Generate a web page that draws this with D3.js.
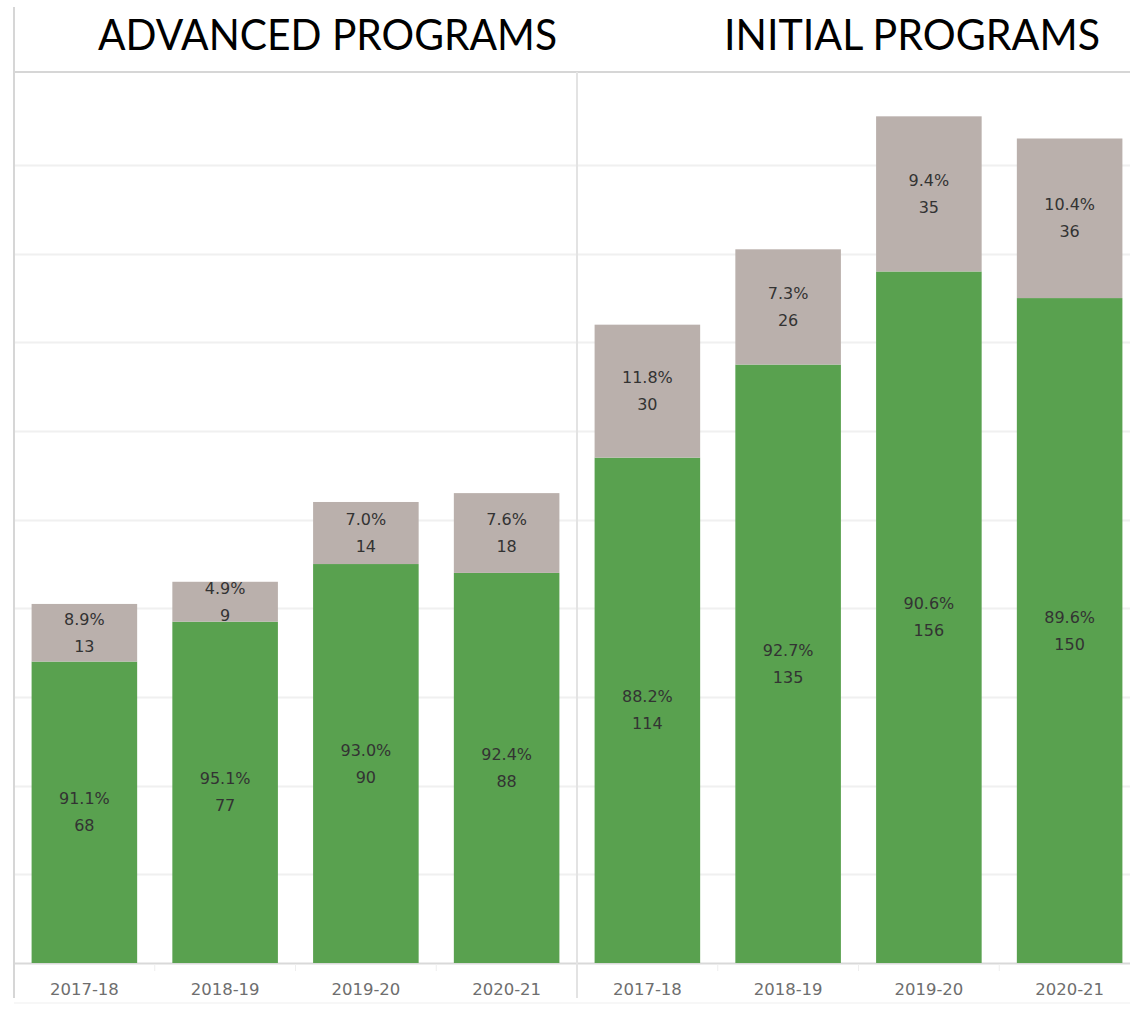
<!DOCTYPE html>
<html>
<head>
<meta charset="utf-8">
<script src="https://cdn.jsdelivr.net/npm/d3@7"></script>
<style>
  html, body { margin: 0; padding: 0; background: #fff; }
  svg { display: block; }
</style>
</head>
<body>
<svg id="chart" width="1130" height="1009"></svg>
<script>
// ---- data ----
const categories = ["2017-18", "2018-19", "2019-20", "2020-21"];
const panels = ["ADVANCED PROGRAMS", "INITIAL PROGRAMS"];

const advancedGreen = [68, 77, 90, 88];
const advancedGreenPct = ["91.1%", "95.1%", "93.0%", "92.4%"];
const advancedGrey = [13, 9, 14, 18];
const advancedGreyPct = ["8.9%", "4.9%", "7.0%", "7.6%"];

const initialGreen = [114, 135, 156, 150];
const initialGreenPct = ["88.2%", "92.7%", "90.6%", "89.6%"];
const initialGrey = [30, 26, 35, 36];
const initialGreyPct = ["11.8%", "7.3%", "9.4%", "10.4%"];

const gridTicks = [20, 40, 60, 80, 100, 120, 140, 160, 180];

// ---- layout ----
const svg = d3.select("#chart");
const W = 1130, H = 1009;
const left = 14, headerY = 72, baseY = 963, bottomY = 998;
const panelW = 563;
const GREEN = "#59a14f", GREY = "#bab0ac";

const y = d3.scaleLinear().domain([0, 201]).range([baseY, headerY]);

const panelData = [
  { title: panels[0], x0: left, titleX: 98, titleW: 459,
    green: advancedGreen, greenPct: advancedGreenPct, grey: advancedGrey, greyPct: advancedGreyPct },
  { title: panels[1], x0: left + panelW, titleX: 724, titleW: 376,
    green: initialGreen, greenPct: initialGreenPct, grey: initialGrey, greyPct: initialGreyPct }
];

// gridlines
svg.append("g").selectAll("line").data(gridTicks).join("line")
  .attr("x1", left).attr("x2", W)
  .attr("y1", d => Math.round(y(d)) + 0.5).attr("y2", d => Math.round(y(d)) + 0.5)
  .attr("stroke", "#f0f0f0").attr("stroke-width", 2);

// baseline
svg.append("line").attr("x1", left).attr("x2", W).attr("y1", baseY + 0.5).attr("y2", baseY + 0.5)
  .attr("stroke", "#d9d9d9").attr("stroke-width", 2);

panelData.forEach((p, pi) => {
  const x = d3.scaleBand().domain(categories)
    .range([p.x0, p.x0 + panelW]).paddingInner(0.25).paddingOuter(0.125);

  const g = svg.append("g");

  // green segments
  g.selectAll("rect.g").data(categories).join("rect").attr("class", "g")
    .attr("x", d => x(d)).attr("width", x.bandwidth())
    .attr("y", (d, i) => y(p.green[i])).attr("height", (d, i) => y(0) - y(p.green[i]))
    .attr("fill", GREEN);

  // grey segments
  g.selectAll("rect.r").data(categories).join("rect").attr("class", "r")
    .attr("x", d => x(d)).attr("width", x.bandwidth())
    .attr("y", (d, i) => y(p.green[i] + p.grey[i]))
    .attr("height", (d, i) => y(p.green[i]) - y(p.green[i] + p.grey[i]))
    .attr("fill", GREY);

  // labels
  const lab = (vals, pcts, base) => {
    categories.forEach((c, i) => {
      const lo = base ? base[i] : 0;
      const cy = (y(lo) + y(lo + vals[i])) / 2;
      const cx = x(c) + x.bandwidth() / 2;
      const t = g.append("text").attr("x", cx).attr("text-anchor", "middle")
        .attr("font-family", "DejaVu Sans").attr("font-size", 16).attr("fill", "#333");
      t.append("tspan").attr("x", cx).attr("y", cy - 13.5).attr("dy", "0.35em").text(pcts[i]);
      t.append("tspan").attr("x", cx).attr("y", cy + 13.5).attr("dy", "0.35em").text(vals[i]);
    });
  };
  lab(p.green, p.greenPct, null);
  lab(p.grey, p.greyPct, p.green);

  // x axis
  const axis = d3.axisBottom(x).tickSize(0).tickPadding(0);
  const ag = svg.append("g").attr("transform", `translate(0,${baseY})`).call(axis);
  ag.select(".domain").remove();
  ag.selectAll("text").attr("y", 26).attr("dy", "0.35em")
    .attr("font-family", "DejaVu Sans").attr("font-size", 16.5).attr("fill", "#6e6e6e");
  // small separators between categories
  categories.slice(1).forEach(c => {
    const sx = x(c) - x.step() * x.paddingInner() / 2;
    svg.append("line").attr("x1", sx).attr("x2", sx).attr("y1", baseY + 1).attr("y2", baseY + 8)
      .attr("stroke", "#eeeeee").attr("stroke-width", 1);
  });

  // title
  svg.append("text").attr("x", p.titleX).attr("y", 50)
    .attr("font-family", "Lato").attr("font-size", 42).attr("fill", "#000")
    .attr("textLength", p.titleW).attr("lengthAdjust", "spacingAndGlyphs")
    .text(p.title);
});

// frame lines
svg.append("line").attr("x1", left).attr("x2", W).attr("y1", headerY).attr("y2", headerY)
  .attr("stroke", "#d6d6d6").attr("stroke-width", 2);
svg.append("line").attr("x1", left).attr("x2", left).attr("y1", 7).attr("y2", bottomY)
  .attr("stroke", "#d6d6d6").attr("stroke-width", 2);
svg.append("line").attr("x1", left + panelW).attr("x2", left + panelW).attr("y1", headerY).attr("y2", bottomY)
  .attr("stroke", "#e3e3e3").attr("stroke-width", 2);
svg.append("line").attr("x1", left).attr("x2", W).attr("y1", 1003).attr("y2", 1003)
  .attr("stroke", "#f7f7f7").attr("stroke-width", 2);
</script>
</body>
</html>
